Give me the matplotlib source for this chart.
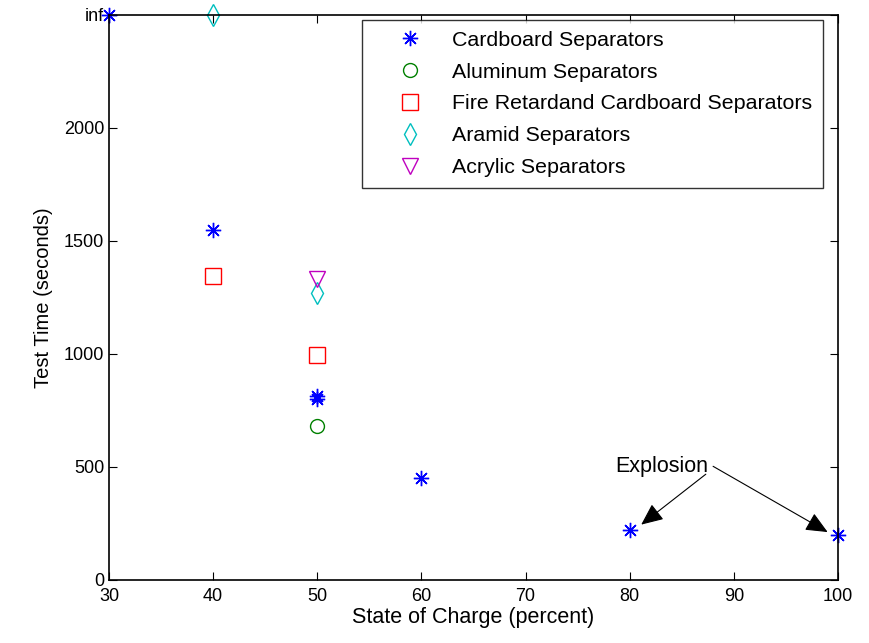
import matplotlib.pyplot as plt

plt.rcParams['font.family'] = ['Liberation Sans', 'DejaVu Sans']

# data (inf plotted at the top of the axis, 2500)
INF = 2500
card_x = [30, 40, 50, 50, 60, 80, 100]
card_y = [INF, 1550, 800, 815, 450, 220, 200]
alu_x = [50]
alu_y = [680]
fire_x = [40, 50]
fire_y = [1345, 995]
aramid_x = [40, 50]
aramid_y = [INF, 1272]
acryl_x = [50]
acryl_y = [1330]

yticks = [0, 500, 1000, 1500, 2000, INF]
yticklabels = ['0', '500', '1000', '1500', '2000', 'inf']
xticks = [30, 40, 50, 60, 70, 80, 90, 100]

fig = plt.figure(figsize=(8.7, 6.43), dpi=100)
ax = fig.add_axes([0.1253, 0.098, 0.838, 0.8787])

ax.plot(card_x, card_y, ls='none', marker=(8, 2, 0), color='blue', ms=11, mew=1.0,
        label='Cardboard Separators', clip_on=False)
ax.plot(alu_x, alu_y, 'o', mec='green', mfc='none', ms=10, label='Aluminum Separators', clip_on=False)
ax.plot(fire_x, fire_y, 's', mec='red', mfc='none', ms=11, label='Fire Retardand Cardboard Separators', clip_on=False)
ax.plot(aramid_x, aramid_y, 'd', mec='c', mfc='none', ms=11, label='Aramid Separators', clip_on=False)
ax.plot(acryl_x, acryl_y, 'v', mec='m', mfc='none', ms=11, label='Acrylic Separators', clip_on=False)

arrow = dict(arrowstyle='-|>,head_length=0.9,head_width=0.4', color='black', lw=0.8,
             mutation_scale=15, shrinkA=0, shrinkB=0)
ax.text(78.6, 500, 'Explosion', fontsize=15.5, va='center', ha='left')
ax.annotate('', xy=(81.1, 245), xytext=(87.3, 468), arrowprops=arrow)
ax.annotate('', xy=(99.0, 212), xytext=(88.0, 503), arrowprops=arrow)

ax.set_xlim(30, 100)
ax.set_ylim(0, INF)
ax.set_xticks(xticks)
ax.set_yticks(yticks)
ax.set_yticklabels(yticklabels)
ax.tick_params(direction='in', top=True, right=True, labelsize=13, length=6)
ax.tick_params(axis='x', pad=6)
for s in ax.spines.values():
    s.set_linewidth(1.2)

ax.set_xlabel('State of Charge (percent)', fontsize=15.5, labelpad=1)
ax.set_ylabel('Test Time (seconds)', fontsize=14.5, labelpad=8)

leg = ax.legend(loc='upper right', bbox_to_anchor=(0.9795, 0.991), fontsize=15.4,
                frameon=True, fancybox=False, edgecolor='black', borderpad=0.5,
                handletextpad=0.3, labelspacing=0.6, handlelength=3.4, borderaxespad=0)
leg.get_frame().set_linewidth(1.0)

fig.savefig('out.png', dpi=100)
